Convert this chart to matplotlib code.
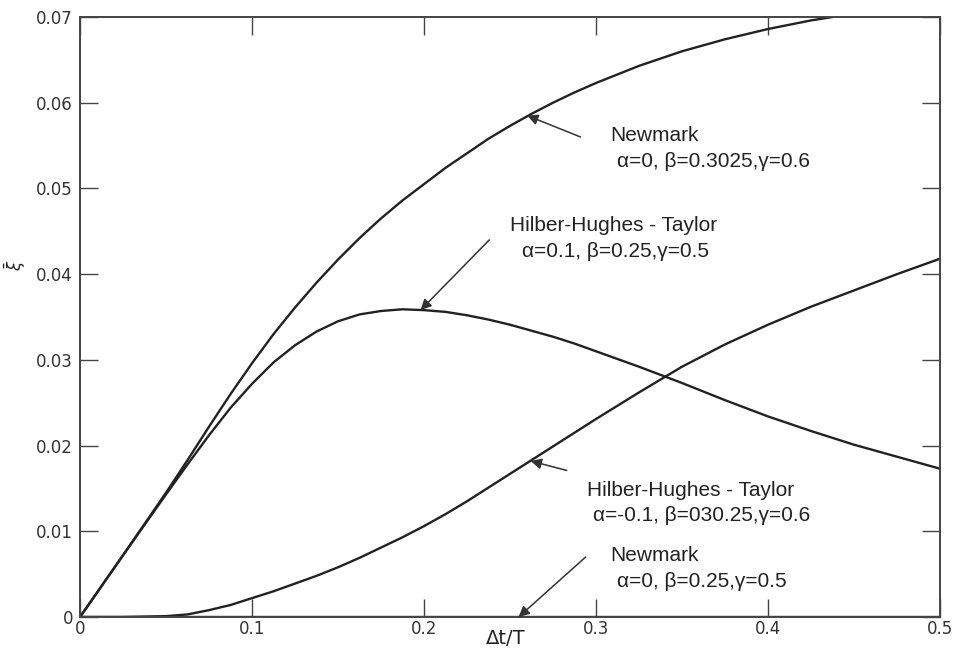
import matplotlib
matplotlib.use('Agg')
import matplotlib.pyplot as plt

# curves (x = dt/T, y = damping ratio)
x_grid = [0, 0.025, 0.05, 0.0625, 0.075, 0.0875, 0.1, 0.1125, 0.125, 0.1375,
          0.15, 0.1625, 0.175, 0.1875, 0.2, 0.2125, 0.225, 0.2375, 0.25, 0.2625,
          0.275, 0.2875, 0.3, 0.325, 0.35, 0.375, 0.4, 0.425, 0.45, 0.475, 0.5]

# Newmark  a=0, b=0.3025, g=0.6
y_nm1 = [0, 0.0072, 0.0145, 0.0183, 0.0222, 0.0260, 0.0296, 0.0330, 0.0361, 0.0390,
         0.0417, 0.0442, 0.0465, 0.0486, 0.0505, 0.0524, 0.0541, 0.0558, 0.0573, 0.0587,
         0.0600, 0.0612, 0.0623, 0.0643, 0.0660, 0.0674, 0.0686, 0.0696, 0.0704, 0.0711, 0.0717]

# HHT  a=0.1, b=0.25, g=0.5
y_hht1 = [0, 0.0072, 0.0143, 0.0178, 0.0212, 0.0244, 0.0272, 0.0297, 0.0317, 0.0333,
          0.0345, 0.0353, 0.0357, 0.0359, 0.0358, 0.0356, 0.0352, 0.0347, 0.0341, 0.0334,
          0.0327, 0.0319, 0.0310, 0.0292, 0.0273, 0.0253, 0.0234, 0.0217, 0.0201, 0.0187, 0.0173]

# HHT  a=-0.1, b=0.3025, g=0.6
y_hht2 = [0, 0, 0.0001, 0.0003, 0.0008, 0.0014, 0.0022, 0.0030, 0.0039, 0.0048,
          0.0058, 0.0069, 0.0081, 0.0093, 0.0106, 0.0120, 0.0135, 0.0151, 0.0167, 0.0183,
          0.0199, 0.0215, 0.0231, 0.0262, 0.0292, 0.0318, 0.0341, 0.0362, 0.0381, 0.0400, 0.0418]

# Newmark  a=0, b=0.25, g=0.5 (no damping)
x_nm2 = [0, 0.5]
y_nm2 = [0, 0]

xticks = [0, 0.1, 0.2, 0.3, 0.4, 0.5]
xticklabels = ['0', '0.1', '0.2', '0.3', '0.4', '0.5']
yticks = [0, 0.01, 0.02, 0.03, 0.04, 0.05, 0.06, 0.07]
yticklabels = ['0', '0.01', '0.02', '0.03', '0.04', '0.05', '0.06', '0.07']

ink = '#222222'
fig = plt.figure(figsize=(9.55, 6.51), dpi=100)
ax = fig.add_axes([80/955., 34/651., 860/955., 600/651.])

for xs, ys in [(x_grid, y_nm1), (x_grid, y_hht1), (x_grid, y_hht2), (x_nm2, y_nm2)]:
    ax.plot(xs, ys, color=ink, lw=1.7, solid_capstyle='round', solid_joinstyle='round')

ax.set_xlim(0, 0.5)
ax.set_ylim(0, 0.07)
ax.set_xticks(xticks)
ax.set_xticklabels(xticklabels)
ax.set_yticks(yticks)
ax.set_yticklabels(yticklabels)
ax.tick_params(direction='in', length=13, width=1.0, color='#444444',
               top=True, right=True, labelsize=12, labelcolor='#333333')
ax.tick_params(axis='x', pad=2)
ax.tick_params(axis='y', pad=5)
for s in ax.spines.values():
    s.set_linewidth(1.4)
    s.set_color('#444444')

# axis labels placed like the original
fig.text(506/955., 1 - 638/651., '\u0394t/T', fontsize=14, color=ink,
         ha='center', va='center')
fig.text(15/955., 1 - 265/651., r'$\bar{\xi}$', fontsize=12, color=ink,
         rotation=90, ha='center', va='center')

arr = dict(arrowstyle='-|>', color='#333333', lw=1.1, mutation_scale=16,
           shrinkA=0, shrinkB=0)
tfont = dict(fontsize=15, color=ink, family='Liberation Sans')

ax.annotate('', xy=(0.26, 0.0585), xytext=(0.291, 0.0560), arrowprops=arr)
ax.text(0.308, 0.0562, 'Newmark', ha='left', va='center', **tfont)
ax.text(0.312, 0.0532, '\u03b1=0, \u03b2=0.3025,\u03b3=0.6', ha='left', va='center', **tfont)

ax.annotate('', xy=(0.198, 0.0358), xytext=(0.238, 0.0440), arrowprops=arr)
ax.text(0.25, 0.0457, 'Hilber-Hughes - Taylor', ha='left', va='center', **tfont)
ax.text(0.257, 0.0426, '\u03b1=0.1, \u03b2=0.25,\u03b3=0.5', ha='left', va='center', **tfont)

ax.annotate('', xy=(0.262, 0.0182), xytext=(0.283, 0.0171), arrowprops=arr)
ax.text(0.295, 0.0148, 'Hilber-Hughes - Taylor', ha='left', va='center', **tfont)
ax.text(0.298, 0.0118, '\u03b1=-0.1, \u03b2=030.25,\u03b3=0.6', ha='left', va='center', **tfont)

ax.annotate('', xy=(0.255, 0.0), xytext=(0.294, 0.0070), arrowprops=arr)
ax.text(0.334, 0.0072, 'Newmark', ha='center', va='center', **tfont)
ax.text(0.312, 0.0041, '\u03b1=0, \u03b2=0.25,\u03b3=0.5', ha='left', va='center', **tfont)

fig.savefig('out.png', dpi=100)
